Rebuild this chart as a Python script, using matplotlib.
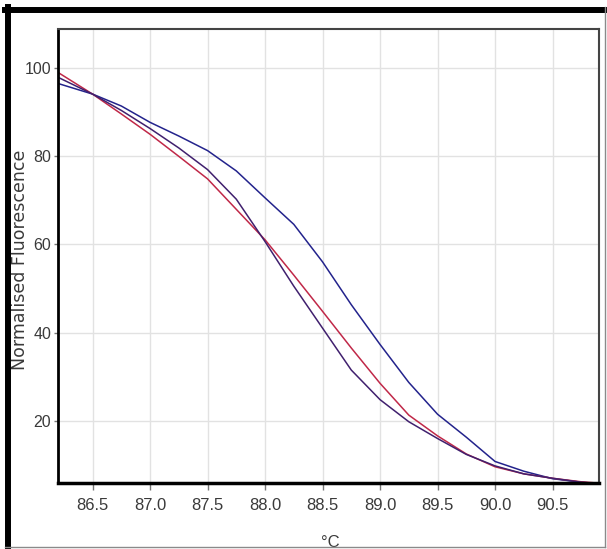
import matplotlib
matplotlib.use("Agg")
import matplotlib.pyplot as plt
from matplotlib.lines import Line2D
from matplotlib import font_manager

#Pick a narrow sans font if it is there
names = {f.name for f in font_manager.fontManager.ttflist}
tick_font = "Liberation Sans Narrow" if "Liberation Sans Narrow" in names else "Liberation Sans"

#Melt curve data (temperature in degC, normalised fluorescence)
temps = [86.2, 86.5, 86.75, 87.0, 87.25, 87.5, 87.75, 88.0, 88.25, 88.5,
         88.75, 89.0, 89.25, 89.5, 89.75, 90.0, 90.25, 90.5, 90.75, 90.85]
blue_curve = [96.4, 94.0, 91.3, 87.6, 84.5, 81.2, 76.6, 70.5, 64.5, 56.0,
              46.3, 37.3, 28.7, 21.5, 16.3, 10.8, 8.6, 6.9, 6.1, 5.9]
red_curve = [98.9, 94.0, 89.5, 84.9, 79.9, 74.8, 67.9, 61.0, 53.0, 44.8,
             36.5, 28.5, 21.3, 16.6, 12.5, 9.6, 8.0, 7.0, 6.2, 6.0]
purple_curve = [97.8, 94.0, 90.3, 86.2, 81.8, 76.9, 70.2, 60.6, 50.5, 41.0,
                31.5, 24.8, 19.8, 16.0, 12.4, 9.8, 8.0, 7.0, 6.1, 5.9]

x_ticks = [86.5, 87.0, 87.5, 88.0, 88.5, 89.0, 89.5, 90.0, 90.5]
y_ticks = [20, 40, 60, 80, 100]

fig = plt.figure(figsize=(6.07, 5.49), dpi=100)
ax = fig.add_axes([0.0956, 0.1208, 0.8905, 0.8269])

#Plot the curves
ax.plot(temps, blue_curve, color="#23238c", lw=1.1)
ax.plot(temps, red_curve, color="#c02848", lw=1.1)
ax.plot(temps, purple_curve, color="#40206e", lw=1.1)

ax.set_xlim(86.2, 90.9)
ax.set_ylim(6.0, 108.8)
ax.set_xticks(x_ticks)
ax.set_xticklabels([f"{t:.1f}" for t in x_ticks])
ax.set_yticks(y_ticks)
ax.grid(True, color="#e2e2e2", lw=1)
ax.set_axisbelow(True)

#Ticks and labels
ax.tick_params(axis="x", length=5, width=1, color="#777777", labelsize=12,
               labelcolor="#3a3a3a", pad=6)
ax.tick_params(axis="y", length=3, width=1, color="#777777", labelsize=11.5,
               labelcolor="#3a3a3a", pad=2)
for lab in ax.get_xticklabels() + ax.get_yticklabels():
    lab.set_family(tick_font)

ax.set_xlabel("°C", fontsize=12, color="#3a3a3a", family=tick_font)
ax.xaxis.set_label_coords(0.503, -0.115)
ax.set_ylabel("Normalised Fluorescence", fontsize=12.5, color="#3a3a3a")
ax.yaxis.set_label_coords(-0.053, 0.49)

#Spines
ax.spines["left"].set_linewidth(2)
ax.spines["left"].set_color("black")
ax.spines["bottom"].set_linewidth(2.5)
ax.spines["bottom"].set_color("black")
ax.spines["top"].set_linewidth(1.5)
ax.spines["top"].set_color("#444444")
ax.spines["right"].set_linewidth(1.5)
ax.spines["right"].set_color("#444444")

#Outer frame round the picture
W, H = 607.0, 549.0
def fx(px): return px / W
def fy(py): return 1 - py / H
fig.add_artist(Line2D([fx(5), fx(605)], [fy(10), fy(10)], color="black", lw=4.3))
fig.add_artist(Line2D([fx(8), fx(8)], [fy(7), fy(547)], color="black", lw=4.3))
fig.add_artist(Line2D([fx(605), fx(605)], [fy(7), fy(547)], color="#8a8a8a", lw=1))
fig.add_artist(Line2D([fx(5), fx(605)], [fy(547), fy(547)], color="#8a8a8a", lw=1))

fig.savefig("out.png", dpi=100)
